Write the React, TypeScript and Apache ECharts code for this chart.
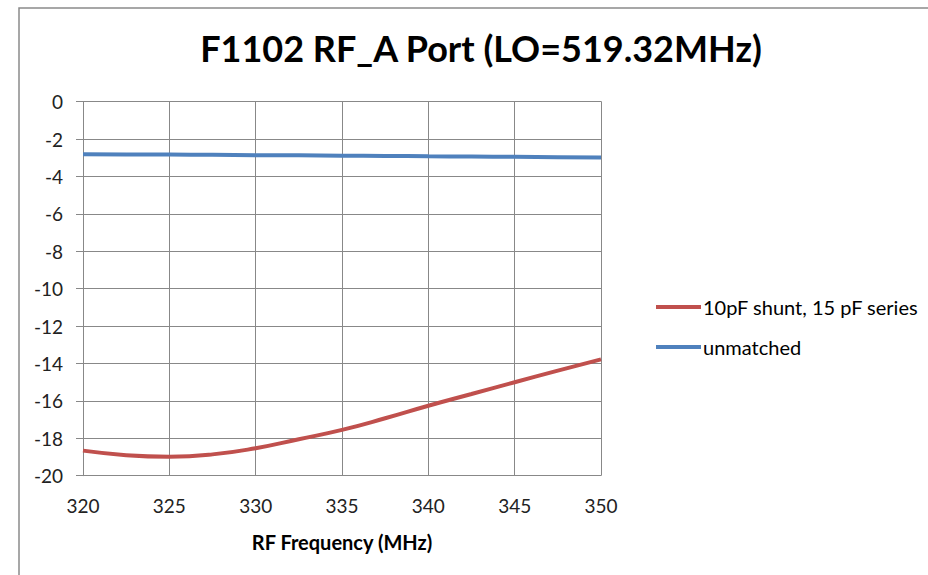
import React, { useEffect, useRef } from "react";
import * as echarts from "echarts";

const frequencies = [320, 322.5, 325, 327.5, 330, 332.5, 335, 337.5, 340, 342.5, 345, 347.5, 350];
const matchedValues = [-18.66, -18.9, -18.98, -18.86, -18.53, -18.05, -17.55, -16.93, -16.26, -15.63, -15.0, -14.38, -13.78];
const unmatchedValues = [-2.81, -2.82, -2.83, -2.84, -2.86, -2.87, -2.89, -2.9, -2.92, -2.93, -2.95, -2.97, -2.99];
const seriesNames = ["10pF shunt, 15 pF series", "unmatched"];
const titleText = "F1102 RF_A Port (LO=519.32MHz)";
const xAxisName = "RF Frequency (MHz)";

const FONT = "Lato, 'Open Sans', sans-serif";
const GRID_COLOR = "#888888";

export default function App() {
  const ref = useRef<HTMLDivElement>(null);
  useEffect(() => {
    if (!ref.current) return;
    const chart = echarts.init(ref.current, undefined, { renderer: "svg" });
    const pair = (vals: number[]) => frequencies.map((f, i) => [f, vals[i]]);
    chart.setOption({
      animation: false,
      backgroundColor: "#ffffff",
      title: {
        text: titleText,
        left: 476,
        textAlign: "center",
        top: 25,
        textStyle: { fontFamily: FONT, fontSize: 36, fontWeight: "bold", color: "#000000" },
      },
      graphic: [
        {
          type: "rect",
          shape: { x: 19, y: 8, width: 1000, height: 1000 },
          style: { fill: "none", stroke: "#8a8a8a", lineWidth: 1.5 },
          silent: true,
        },
      ],
      legend: {
        orient: "vertical",
        left: 651,
        top: 291,
        icon: "rect",
        itemWidth: 45,
        itemHeight: 4,
        itemGap: 18,
        data: seriesNames,
        textStyle: { fontFamily: FONT, fontSize: 20, color: "#000000", lineHeight: 22, padding: [0, 0, 0, -3] },
      },
      grid: { left: 83, right: 327, top: 101.7, bottom: 99.3, containLabel: false },
      xAxis: {
        type: "value",
        min: 320,
        max: 350,
        interval: 5,
        name: xAxisName,
        nameLocation: "middle",
        nameGap: 56,
        nameTextStyle: { fontFamily: FONT, fontSize: 20, fontWeight: "bold", color: "#000000" },
        axisLine: { show: true, lineStyle: { color: GRID_COLOR, width: 1 } },
        axisTick: { show: true, length: 7, lineStyle: { color: GRID_COLOR } },
        axisLabel: { margin: 20, fontFamily: FONT, fontSize: 19, color: "#222222" },
        splitLine: { show: true, lineStyle: { color: GRID_COLOR, width: 1 } },
      },
      yAxis: {
        type: "value",
        min: -20,
        max: 0,
        interval: 2,
        axisLine: { show: true, lineStyle: { color: GRID_COLOR, width: 1 } },
        axisTick: { show: true, length: 7, lineStyle: { color: GRID_COLOR } },
        axisLabel: { margin: 20, fontFamily: FONT, fontSize: 19, color: "#222222" },
        splitLine: { show: true, lineStyle: { color: GRID_COLOR, width: 1 } },
      },
      series: [
        {
          name: seriesNames[0],
          type: "line",
          data: pair(matchedValues),
          smooth: true,
          symbol: "none",
          lineStyle: { color: "#C0504D", width: 4 },
          itemStyle: { color: "#C0504D" },
        },
        {
          name: seriesNames[1],
          type: "line",
          data: pair(unmatchedValues),
          smooth: true,
          symbol: "none",
          lineStyle: { color: "#4F81BD", width: 4 },
          itemStyle: { color: "#4F81BD" },
        },
      ],
    });
    return () => chart.dispose();
  }, []);
  return (
    <div
      ref={ref}
      style={{ position: "fixed", left: 0, top: 0, width: 928, height: 575 }}
    />
  );
}
